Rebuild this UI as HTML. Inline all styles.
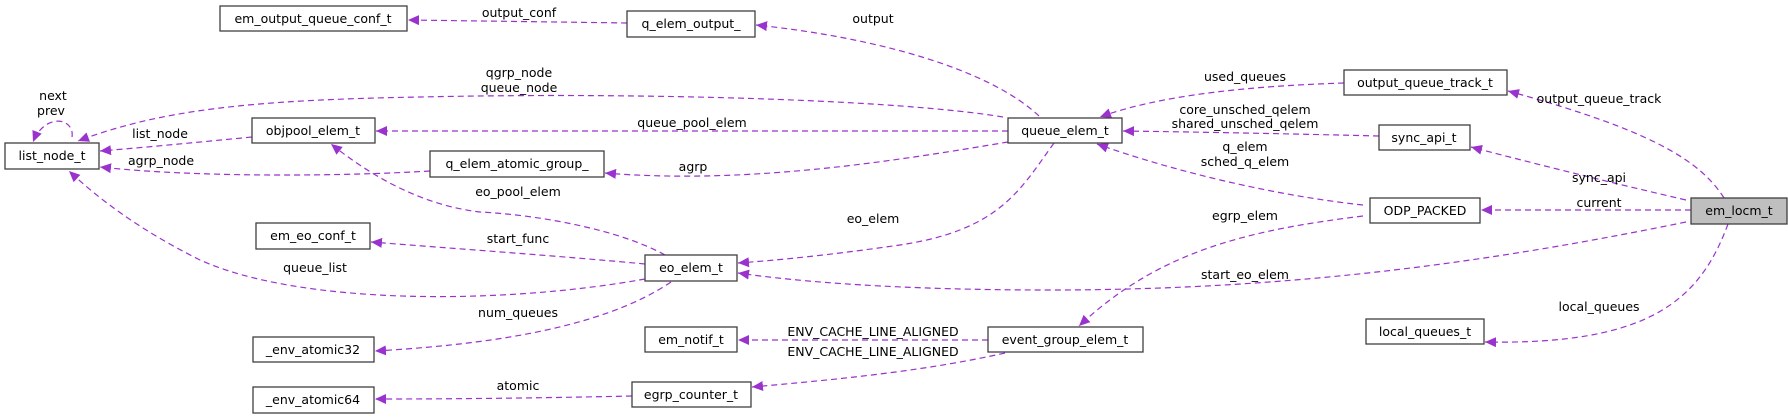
<!DOCTYPE html>
<html><head><meta charset="utf-8"><style>
html,body{margin:0;padding:0;background:#fff}
svg{display:block}
text{font-family:"DejaVu Sans","Liberation Sans",sans-serif;font-size:12.5px;fill:#000}
.n{fill:#fff;stroke:#404040;stroke-width:1.3}
.e{fill:none;stroke:#9a32cd;stroke-width:1.2;stroke-dasharray:6,4}
</style></head><body>
<svg width="1788" height="419" viewBox="0 0 1788 419" xmlns="http://www.w3.org/2000/svg">
<defs><marker id="a" markerUnits="userSpaceOnUse" markerWidth="12" markerHeight="10" refX="11" refY="5" orient="auto"><path d="M0,0 L11,5 L0,10 Z" fill="#9a32cd"/></marker></defs>
<g>
<path class="e" marker-end="url(#a)" d="M627,23 C560,22 480,21 408,20"/>
<path class="e" marker-end="url(#a)" d="M1039,116 C990,70 880,38 756,25"/>
<path class="e" marker-end="url(#a)" d="M1003,117 C900,100 650,92 420,97 C250,100 160,110 78,141"/>
<path class="e" marker-end="url(#a)" d="M1008,131 L376,131"/>
<path class="e" marker-end="url(#a)" d="M1008,142 C900,160 750,185 605,173"/>
<path class="e" marker-end="url(#a)" d="M252,137 C200,142 150,147 100,151"/>
<path class="e" marker-end="url(#a)" d="M430,171 C350,176 200,178 100,167"/>
<path class="e" marker-end="url(#a)" d="M645,279 C500,305 300,305 200,260 C140,230 100,200 69,171"/>
<path class="e" marker-end="url(#a)" d="M665,255 C620,230 540,215 480,212 C420,205 370,175 331,144"/>
<path class="e" marker-end="url(#a)" d="M645,264 C560,256 460,249 371,242"/>
<path class="e" marker-end="url(#a)" d="M671,282 C600,330 480,345 375,351"/>
<path class="e" marker-end="url(#a)" d="M1054,143 C1020,190 1000,230 900,245 C830,255 780,260 738,263"/>
<path class="e" marker-end="url(#a)" d="M988,340 L738,340"/>
<path class="e" marker-end="url(#a)" d="M1005,353 C920,372 830,380 752,387"/>
<path class="e" marker-end="url(#a)" d="M632,396 C540,398 460,399 375,399"/>
<path class="e" marker-end="url(#a)" d="M1344,83 C1250,86 1160,95 1100,117"/>
<path class="e" marker-end="url(#a)" d="M1379,136 C1300,134 1200,132 1123,131"/>
<path class="e" marker-end="url(#a)" d="M1363,205 C1270,195 1170,170 1097,144"/>
<path class="e" marker-end="url(#a)" d="M1363,216 C1250,230 1160,250 1079,326"/>
<path class="e" marker-end="url(#a)" d="M1686,222 C1500,260 1300,290 1050,290 C900,290 800,282 738,273"/>
<path class="e" marker-end="url(#a)" d="M1724,198 C1700,160 1650,130 1508,91"/>
<path class="e" marker-end="url(#a)" d="M1686,200 C1600,180 1540,165 1471,147"/>
<path class="e" marker-end="url(#a)" d="M1691,210 L1481,210"/>
<path class="e" marker-end="url(#a)" d="M1728,224 C1700,300 1650,345 1485,342"/>
<path class="e" marker-end="url(#a)" d="M72,137 C75,118 45,112 33,142"/>
</g>
<g>
<rect class="n" x="220" y="6" width="187" height="25"/><text x="313" y="23" text-anchor="middle">em_output_queue_conf_t</text>
<rect class="n" x="5" y="143" width="94" height="26"/><text x="52" y="160" text-anchor="middle">list_node_t</text>
<rect class="n" x="252" y="118" width="123" height="25"/><text x="313" y="135" text-anchor="middle">objpool_elem_t</text>
<rect class="n" x="430" y="151" width="174" height="26"/><text x="517" y="168" text-anchor="middle">q_elem_atomic_group_</text>
<rect class="n" x="256" y="223" width="114" height="26"/><text x="313" y="240" text-anchor="middle">em_eo_conf_t</text>
<rect class="n" x="253" y="337" width="121" height="25"/><text x="313" y="354" text-anchor="middle">_env_atomic32</text>
<rect class="n" x="253" y="387" width="121" height="26"/><text x="313" y="404" text-anchor="middle">_env_atomic64</text>
<rect class="n" x="627" y="11" width="128" height="26"/><text x="691" y="28" text-anchor="middle">q_elem_output_</text>
<rect class="n" x="1008" y="118" width="114" height="25"/><text x="1065" y="135" text-anchor="middle">queue_elem_t</text>
<rect class="n" x="645" y="255" width="92" height="26"/><text x="691" y="272" text-anchor="middle">eo_elem_t</text>
<rect class="n" x="645" y="327" width="92" height="25"/><text x="691" y="344" text-anchor="middle">em_notif_t</text>
<rect class="n" x="632" y="382" width="119" height="25"/><text x="691" y="399" text-anchor="middle">egrp_counter_t</text>
<rect class="n" x="988" y="327" width="155" height="25"/><text x="1065" y="344" text-anchor="middle">event_group_elem_t</text>
<rect class="n" x="1344" y="70" width="163" height="25"/><text x="1425" y="87" text-anchor="middle">output_queue_track_t</text>
<rect class="n" x="1379" y="125" width="91" height="25"/><text x="1424" y="142" text-anchor="middle">sync_api_t</text>
<rect class="n" x="1370" y="198" width="110" height="25"/><text x="1425" y="215" text-anchor="middle">ODP_PACKED</text>
<rect class="n" x="1366" y="319" width="118" height="25"/><text x="1425" y="336" text-anchor="middle">local_queues_t</text>
<rect x="1691" y="198" width="96" height="26" fill="#bfbfbf" stroke="#404040" stroke-width="1.3"/><text x="1739" y="215" text-anchor="middle">em_locm_t</text>
</g>
<g text-anchor="middle">
<text x="53" y="100">next</text><text x="51" y="115">prev</text>
<text x="160" y="138">list_node</text>
<text x="161" y="165">agrp_node</text>
<text x="315" y="272">queue_list</text>
<text x="519" y="17">output_conf</text>
<text x="519" y="77">qgrp_node</text><text x="519" y="92">queue_node</text>
<text x="692" y="127">queue_pool_elem</text>
<text x="693" y="171">agrp</text>
<text x="518" y="196">eo_pool_elem</text>
<text x="518" y="243">start_func</text>
<text x="518" y="317">num_queues</text>
<text x="518" y="390">atomic</text>
<text x="873" y="23">output</text>
<text x="873" y="223">eo_elem</text>
<text x="873" y="336">ENV_CACHE_LINE_ALIGNED</text>
<text x="873" y="356">ENV_CACHE_LINE_ALIGNED</text>
<text x="1245" y="81">used_queues</text>
<text x="1245" y="114">core_unsched_qelem</text>
<text x="1245" y="128">shared_unsched_qelem</text>
<text x="1245" y="151">q_elem</text>
<text x="1245" y="166">sched_q_elem</text>
<text x="1245" y="220">egrp_elem</text>
<text x="1245" y="279">start_eo_elem</text>
<text x="1599" y="103">output_queue_track</text>
<text x="1599" y="182">sync_api</text>
<text x="1599" y="207">current</text>
<text x="1599" y="311">local_queues</text>
</g>
</svg>
</body></html>
